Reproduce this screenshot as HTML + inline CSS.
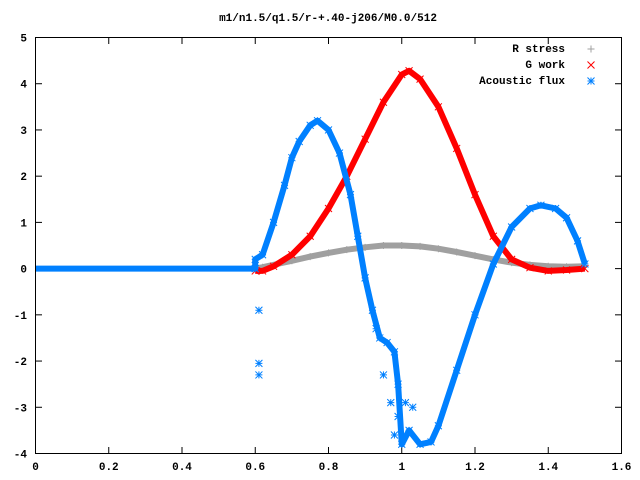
<!DOCTYPE html>
<html><head><meta charset="utf-8"><style>
body{margin:0;background:#fff}
svg{display:block}
text{font-family:"Liberation Mono",monospace;font-weight:bold;font-size:11px;fill:#000}
</style></head><body>
<svg id="chart" width="640" height="480" viewBox="0 0 640 480" xmlns="http://www.w3.org/2000/svg">
<text x="328" y="21" text-anchor="middle">m1/n1.5/q1.5/r-+.40-j206/M0.0/512</text>
<g id="axes"></g>
<g id="series"></g>
<rect x="35.5" y="37.5" width="586" height="416" fill="none" stroke="#000" stroke-width="1"/>
<g>
<text x="565" y="52" text-anchor="end">R stress</text>
<text x="565" y="68" text-anchor="end">G work</text>
<text x="565" y="84" text-anchor="end">Acoustic flux</text>
</g>
</svg>
<script>
const xTicks=[0,0.2,0.4,0.6,0.8,1,1.2,1.4,1.6];
const yTicks=[-4,-3,-2,-1,0,1,2,3,4,5];
const rX=[0.6,0.62,0.66,0.7,0.75,0.8,0.85,0.9,0.95,1.0,1.05,1.1,1.15,1.2,1.25,1.3,1.35,1.4,1.45,1.5];
const rY=[0,0.03,0.1,0.17,0.26,0.34,0.41,0.46,0.5,0.5,0.48,0.43,0.36,0.28,0.2,0.13,0.08,0.05,0.04,0.05];
const gX=[0.6,0.62,0.65,0.7,0.75,0.8,0.85,0.9,0.95,1.0,1.02,1.05,1.1,1.15,1.2,1.25,1.3,1.35,1.4,1.45,1.5];
const gY=[-0.05,-0.05,0.05,0.3,0.7,1.3,2.0,2.8,3.6,4.2,4.28,4.1,3.5,2.6,1.6,0.7,0.2,0.02,-0.05,-0.03,0];
const aX=[0,0.6,0.6,0.62,0.65,0.68,0.7,0.72,0.75,0.77,0.8,0.83,0.86,0.88,0.9,0.92,0.94,0.96,0.98,0.99,1.0,1.02,1.05,1.08,1.1,1.15,1.2,1.25,1.3,1.35,1.38,1.42,1.45,1.48,1.5];
const aY=[0,0,0.2,0.3,1.0,1.8,2.4,2.75,3.1,3.2,3.0,2.5,1.6,0.7,-0.2,-0.9,-1.5,-1.6,-1.8,-2.5,-3.8,-3.5,-3.8,-3.75,-3.4,-2.2,-1.0,0.1,0.9,1.3,1.37,1.3,1.1,0.6,0.1];
const aOutX=[0.61,0.61,0.61,0.93,0.95,0.97,0.98,0.99,1.01,1.03];
const aOutY=[-0.9,-2.05,-2.3,-1.3,-2.3,-2.9,-3.6,-3.2,-2.9,-3.0];
const NS='http://www.w3.org/2000/svg';
const sx=v=>35.5+v/1.6*586;
const sy=v=>453.5-(v+4)/9*416;
const axes=document.getElementById('axes'),ser=document.getElementById('series');
function mk(t,a,p){const e=document.createElementNS(NS,t);for(const k in a)e.setAttribute(k,a[k]);p.appendChild(e);return e;}
xTicks.forEach(v=>{
 const l=mk('line',{x1:sx(v),x2:sx(v),y1:453.5,y2:447,stroke:'#000'},axes);
 
 
 const l2=mk('line',{x1:sx(v),x2:sx(v),y1:37.5,y2:44,stroke:'#000'},axes);
 
 
 const t=mk('text',{x:sx(v),y:470,'text-anchor':'middle'},axes);t.textContent=String(v);
 
 
});
yTicks.forEach(v=>{
 const l=mk('line',{x1:35.5,x2:42,y1:sy(v),y2:sy(v),stroke:'#000'},axes);
 
 
 const l2=mk('line',{x1:621.5,x2:615,y1:sy(v),y2:sy(v),stroke:'#000'},axes);
 
 
 const t=mk('text',{x:27,y:sy(v)+4,'text-anchor':'end'},axes);t.textContent=String(v);
 
 
});
function path(xs,ys,col,w,name){
 let d='';xs.forEach((x,i)=>{d+=(i?'L':'M')+sx(x).toFixed(1)+','+sy(ys[i]).toFixed(1);});
 const p=mk('path',{d:d,fill:'none',stroke:col,'stroke-width':w,'stroke-linejoin':'round'},ser);
 
 
}
function marker(x,y,type,col,name){
 const X=sx(x),Y=sy(y),s=3.5;let d;
 if(type==='+')d=`M${X-s},${Y}H${X+s}M${X},${Y-s}V${Y+s}`;
 else if(type==='x')d=`M${X-s},${Y-s}L${X+s},${Y+s}M${X-s},${Y+s}L${X+s},${Y-s}`;
 else d=`M${X-s},${Y}H${X+s}M${X},${Y-s}V${Y+s}M${X-s},${Y-s}L${X+s},${Y+s}M${X-s},${Y+s}L${X+s},${Y-s}`;
 const p=mk('path',{d:d,stroke:col,'stroke-width':1,fill:'none'},ser);
 
 
}
path(rX,rY,'#a0a0a0',6,'r-stress-line');
rX.forEach((x,i)=>marker(x,rY[i],'+','#a0a0a0','r-stress-point'));
path(gX,gY,'#ff0000',6,'g-work-line');
gX.forEach((x,i)=>marker(x,gY[i],'x','#ff0000','g-work-point'));
path(aX,aY,'#0080ff',6,'acoustic-flux-line');
aX.forEach((x,i)=>{if(x>0)marker(x,aY[i],'*','#0080ff','acoustic-flux-point');});
aOutX.forEach((x,i)=>marker(x,aOutY[i],'*','#0080ff','acoustic-flux-outlier'));
const lg=[['+','#a0a0a0',49],['x','#ff0000',65],['*','#0080ff',81]];
lg.forEach(a=>{const X=591,Y=a[2],s=3.5;let d;
 if(a[0]==='+')d=`M${X-s},${Y}H${X+s}M${X},${Y-s}V${Y+s}`;
 else if(a[0]==='x')d=`M${X-s},${Y-s}L${X+s},${Y+s}M${X-s},${Y+s}L${X+s},${Y-s}`;
 else d=`M${X-s},${Y}H${X+s}M${X},${Y-s}V${Y+s}M${X-s},${Y-s}L${X+s},${Y+s}M${X-s},${Y+s}L${X+s},${Y-s}`;
 const p=mk('path',{d:d,stroke:a[1],fill:'none'},ser);
 
 
});
</script>
</body></html>
